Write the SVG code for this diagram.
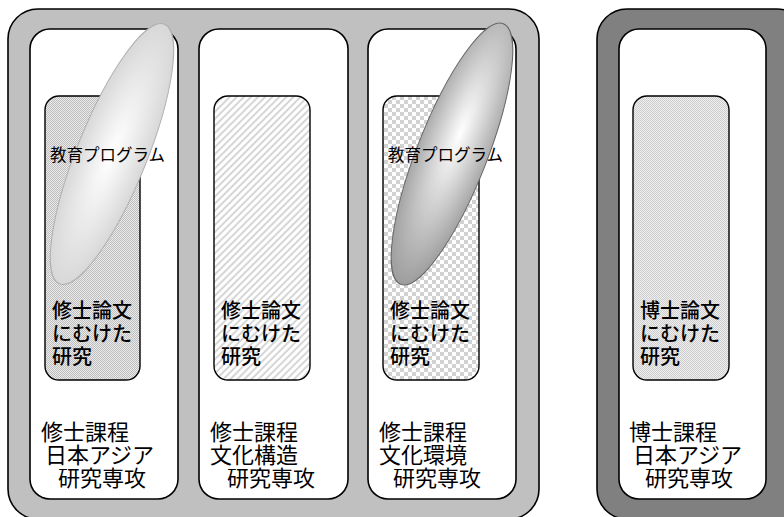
<svg xmlns="http://www.w3.org/2000/svg" width="784" height="517" viewBox="0 0 784 517">
<style>
.frame{stroke:#000;stroke-width:1.6}
.col{fill:#fff;stroke:#000;stroke-width:1.6}
.inner{stroke:#000;stroke-width:1.4}
.lab{font-family:"Noto Sans CJK JP","Noto Sans CJK SC",sans-serif;font-size:22px;fill:#000}
.res{font-family:"Noto Sans CJK JP","Noto Sans CJK SC",sans-serif;font-size:20px;font-weight:500;fill:#000}
.prog{font-family:"Noto Sans CJK JP","Noto Sans CJK SC",sans-serif;font-size:16.5px;fill:#000}
</style>
<defs>
<pattern id="dots1" width="2" height="2" patternUnits="userSpaceOnUse">
<rect width="2" height="2" fill="#ebebeb"/><rect width="1" height="1" fill="#bdbdbd"/><rect x="1" y="1" width="1" height="1" fill="#bdbdbd"/>
</pattern>
<pattern id="dots4" width="2" height="2" patternUnits="userSpaceOnUse">
<rect width="2" height="2" fill="#efefef"/><rect width="1" height="1" fill="#cdcdcd"/><rect x="1" y="1" width="1" height="1" fill="#cdcdcd"/>
</pattern>
<pattern id="stripes" width="5" height="5" patternUnits="userSpaceOnUse" patternTransform="rotate(45)">
<rect width="5" height="5" fill="#fff"/><rect width="2" height="5" fill="#d6d6d6"/>
</pattern>
<pattern id="checks" width="8" height="8" patternUnits="userSpaceOnUse">
<rect width="8" height="8" fill="#fff"/><rect width="4" height="4" fill="#d2d2d2"/><rect x="4" y="4" width="4" height="4" fill="#d2d2d2"/>
</pattern>
<radialGradient id="g1" cx="0.5" cy="0.5" r="0.55">
<stop offset="0" stop-color="#ffffff"/><stop offset="1" stop-color="#d4d4d4"/>
</radialGradient>
<radialGradient id="g3" cx="0.5" cy="0.42" r="0.6">
<stop offset="0" stop-color="#ffffff"/><stop offset="1" stop-color="#9a9a9a"/>
</radialGradient>
</defs>

<g id="master-frame">
<rect class="frame" x="8" y="9" width="531" height="510" rx="30" fill="#c0c0c0"/>
</g>
<g id="doctor-frame">
<rect class="frame" x="597" y="9" width="210" height="510" rx="30" fill="#808080"/>
</g>

<g id="col1">
<rect class="col" x="30" y="29" width="148" height="470" rx="20"/>
<rect class="inner" x="45" y="96" width="95" height="284" rx="14" fill="url(#dots1)"/>
<ellipse cx="112" cy="154" rx="35" ry="140" transform="rotate(22 112 154)" fill="url(#g1)" stroke="#b0b0b0" stroke-width="1"/>
<text class="prog" x="50" y="161">教育プログラム</text>
<text class="res" x="52" y="318">修士論文</text>
<text class="res" x="52" y="341">にむけた</text>
<text class="res" x="52" y="364">研究</text>
<text class="lab" x="41" y="440">修士課程</text>
<text class="lab" x="45" y="463">日本アジア</text>
<text class="lab" x="58" y="486">研究専攻</text>
</g>

<g id="col2">
<rect class="col" x="199" y="29" width="149" height="470" rx="20"/>
<rect class="inner" x="214" y="96" width="96" height="284" rx="14" fill="url(#stripes)"/>
<text class="res" x="221" y="318">修士論文</text>
<text class="res" x="221" y="341">にむけた</text>
<text class="res" x="221" y="364">研究</text>
<text class="lab" x="210" y="440">修士課程</text>
<text class="lab" x="210" y="463">文化構造</text>
<text class="lab" x="227" y="486">研究専攻</text>
</g>

<g id="col3">
<rect class="col" x="368" y="29" width="148" height="470" rx="20"/>
<rect class="inner" x="383" y="96" width="96" height="284" rx="14" fill="url(#checks)"/>
<ellipse cx="452" cy="154" rx="35" ry="140" transform="rotate(21.5 452 154)" fill="url(#g3)" stroke="#666" stroke-width="1"/>
<text class="prog" x="388" y="161">教育プログラム</text>
<text class="res" x="390" y="318">修士論文</text>
<text class="res" x="390" y="341">にむけた</text>
<text class="res" x="390" y="364">研究</text>
<text class="lab" x="379" y="440">修士課程</text>
<text class="lab" x="379" y="463">文化環境</text>
<text class="lab" x="393" y="486">研究専攻</text>
</g>

<g id="col4">
<rect class="col" x="619" y="29" width="147" height="470" rx="20"/>
<rect class="inner" x="633" y="96" width="96" height="284" rx="14" fill="url(#dots4)"/>
<text class="res" x="640" y="318">博士論文</text>
<text class="res" x="640" y="341">にむけた</text>
<text class="res" x="640" y="364">研究</text>
<text class="lab" x="629" y="440">博士課程</text>
<text class="lab" x="633" y="463">日本アジア</text>
<text class="lab" x="645" y="486">研究専攻</text>
</g>
</svg>
